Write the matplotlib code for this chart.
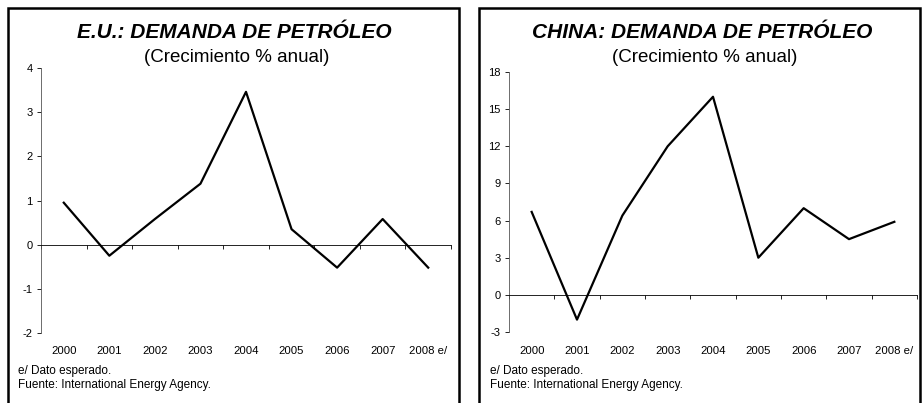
import matplotlib.pyplot as plt
from matplotlib.patches import Rectangle
from matplotlib.transforms import blended_transform_factory

plt.rcParams['font.family'] = ['Liberation Sans', 'DejaVu Sans']

years = ['2000', '2001', '2002', '2003', '2004', '2005', '2006', '2007', '2008 e/']
eu_growth = [0.95, -0.25, 0.58, 1.38, 3.46, 0.35, -0.52, 0.58, -0.52]
china_growth = [6.7, -2.0, 6.4, 12.0, 16.0, 3.0, 7.0, 4.5, 5.9]

eu_ticks = [-2, -1, 0, 1, 2, 3, 4]
china_ticks = [-3, 0, 3, 6, 9, 12, 15, 18]

W, H = 922, 403
fig = plt.figure(figsize=(W / 100, H / 100), dpi=100)


def px_axes(x0, y0, x1, y1):
    # pixel box (top-left origin) -> figure axes
    return fig.add_axes([x0 / W, 1 - y1 / H, (x1 - x0) / W, (y1 - y0) / H])


def draw_panel(box, ax_box, title, values, yticks, text_x, title_x):
    bx0, bx1 = box
    fig.patches.append(Rectangle((bx0 / W, -0.05), (bx1 - bx0) / W, 1 - 8 / H + 0.05,
                                 transform=fig.transFigure, fill=False,
                                 edgecolor='black', linewidth=1.8))
    cx = title_x / W
    fig.text(cx, 1 - 33 / H, title, ha='center', va='center',
             fontsize=15, fontweight='bold', fontstyle='italic')
    fig.text(cx + 3 / W, 1 - 58 / H, '(Crecimiento % anual)', ha='center',
             va='center', fontsize=13.5)

    ax = px_axes(*ax_box)
    x = list(range(len(values)))
    ax.plot(x, values, color='black', linewidth=1.6)
    ax.set_xlim(-0.5, len(values) - 0.5)
    ax.set_ylim(yticks[0], yticks[-1])
    ax.set_yticks(yticks)
    ax.set_yticklabels([str(t) for t in yticks], fontsize=8)
    ax.tick_params(axis='y', length=3, width=0.6, pad=3)

    ax.spines[['top', 'right']].set_visible(False)
    ax.spines['left'].set_linewidth(0.6)
    ax.spines['left'].set_color('#555555')
    ax.spines['bottom'].set_position(('data', 0))
    ax.spines['bottom'].set_linewidth(0.6)
    ax.set_xticks([i - 0.5 for i in range(len(values) + 1)])
    ax.set_xticklabels([])
    ax.tick_params(axis='x', length=3, width=0.6)

    tr = blended_transform_factory(ax.transData, fig.transFigure)
    for i, lab in enumerate(years):
        ax.text(i, 1 - 351 / H, lab, transform=tr, ha='center', va='center',
                fontsize=8.2)

    fig.text(text_x / W, 1 - 371 / H, 'e/ Dato esperado.', ha='left',
             va='center', fontsize=8.5)
    fig.text(text_x / W, 1 - 385 / H, 'Fuente: International Energy Agency.',
             ha='left', va='center', fontsize=8.5)
    return ax


draw_panel((8, 459), (41, 68, 451, 333), 'E.U.: DEMANDA DE PETRÓLEO',
           eu_growth, eu_ticks, 18, 234)
draw_panel((479, 920), (509, 72, 917, 332), 'CHINA: DEMANDA DE PETRÓLEO',
           china_growth, china_ticks, 490, 702)

fig.savefig('out.png', dpi=100)
